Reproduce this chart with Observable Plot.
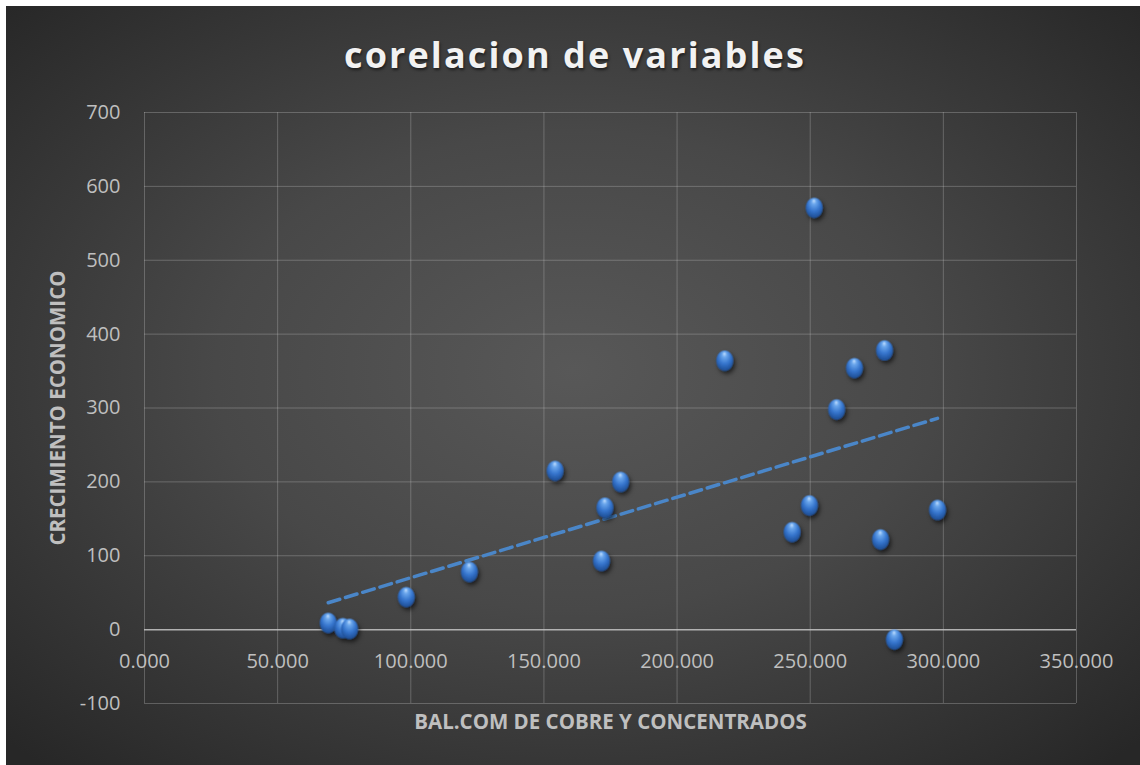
<!DOCTYPE html>
<html>
<head>
<meta charset="utf-8">
<script src="https://cdn.jsdelivr.net/npm/d3@7"></script>
<script src="https://cdn.jsdelivr.net/npm/@observablehq/plot@0.6"></script>
<style>
  html, body { margin: 0; padding: 0; background: #ffffff; }
  #chart {
    position: absolute; left: 6px; top: 6px; width: 1134px; height: 759px;
    background: radial-gradient(ellipse 70% 70% at 50% 48%, #585858 0%, #484848 45%, #333333 80%, #272727 100%);
    font-family: "Open Sans", sans-serif;
    overflow: hidden;
  }
  #title {
    height: 90px; line-height: 98px; text-align: center;
    font-family: "Open Sans", sans-serif; font-weight: bold; font-size: 36px;
    letter-spacing: 2.1px; color: #f2f2f2;
    text-shadow: 1px 2px 3px rgba(0,0,0,0.55);
    padding-left: 4px;
  }
  #chart svg { display: block; }
</style>
</head>
<body>
<div id="chart"><div id="title">corelacion de variables</div></div>
<script>
// Data
const balCobre = [69.0, 74.5, 77.0, 98.3, 122.0, 154.2, 178.8, 172.9, 171.6, 243.2, 249.7, 276.4, 297.8, 281.6, 251.5, 217.9, 277.9, 266.6, 259.9];
const crecimiento = [9, 2, 1, 44, 78, 215, 200, 165, 93, 132, 168, 122, 162, -13.5, 571, 364, 378, 354, 298];
const xTicks = [0, 50, 100, 150, 200, 250, 300, 350];
const xTickLabels = ["0.000", "50.000", "100.000", "150.000", "200.000", "250.000", "300.000", "350.000"];
const yTicks = [-100, 0, 100, 200, 300, 400, 500, 600, 700];
const yTickLabels = ["-100", "0", "100", "200", "300", "400", "500", "600", "700"];
const xTitle = "BAL.COM DE COBRE Y CONCENTRADOS";
const yTitle = "CRECIMIENTO ECONOMICO";

const data = balCobre.map((x, i) => ({x, y: crecimiento[i]}));
const xTickData = xTicks.map((v, i) => ({v, label: xTickLabels[i]}));

const ellipseSymbol = {
  draw(context, size) {
    const r = Math.sqrt(size / Math.PI);
    const rx = r * 0.9, ry = r * 1.08, k = 0.5523;
    context.moveTo(rx, 0);
    context.bezierCurveTo(rx, k * ry, k * rx, ry, 0, ry);
    context.bezierCurveTo(-k * rx, ry, -rx, k * ry, -rx, 0);
    context.bezierCurveTo(-rx, -k * ry, -k * rx, -ry, 0, -ry);
    context.bezierCurveTo(k * rx, -ry, rx, -k * ry, rx, 0);
    context.closePath();
  }
};

const gridStroke = "#d9d9d9";
const plot = Plot.plot({
  width: 1134,
  height: 669,
  marginTop: 16,
  marginBottom: 62,
  marginLeft: 138,
  marginRight: 64,
  style: { background: "transparent", color: "#bfbfbf", fontFamily: "Open Sans, sans-serif", fontSize: "20px" },
  x: { domain: [0, 350], axis: null },
  y: { domain: [-100, 700], axis: null },
  marks: [
    Plot.gridX(xTicks, { stroke: gridStroke, strokeOpacity: 0.28, strokeWidth: 1 }),
    Plot.gridY(yTicks, { stroke: gridStroke, strokeOpacity: 0.28, strokeWidth: 1 }),
    Plot.ruleY([0], { stroke: "#bfbfbf", strokeWidth: 1.5, strokeOpacity: 0.85 }),
    Plot.axisY(yTicks, { tickSize: 0, tickPadding: 24, fontSize: 20, fill: "#bfbfbf",
      tickFormat: (d) => yTickLabels[yTicks.indexOf(d)], label: null }),
    Plot.text([yTitle], { frameAnchor: "left", dx: -86, rotate: -90, textAnchor: "middle", lineAnchor: "middle",
      fill: "#bfbfbf", fontSize: 20.5, fontWeight: "bold" }),
    Plot.text(xTickData, { x: "v", y: () => 0, text: "label", dy: 32, fill: "#bfbfbf", fontSize: 20 }),
    Plot.text([xTitle], { frameAnchor: "bottom", lineAnchor: "middle", dy: 19, fill: "#bfbfbf", fontSize: 20.5, fontWeight: "bold" }),
    Plot.linearRegressionY(data, { x: "x", y: "y", ci: 0, stroke: "#4a86c8", strokeWidth: 3.5, strokeDasharray: "12,6" }),
    Plot.dot(data, { x: "x", y: "y", r: 9.4, symbol: ellipseSymbol, fill: "url(#sphereGrad)", stroke: "none" })
  ]
});

// gradient + shadow defs
const ns = "http://www.w3.org/2000/svg";
const defs = document.createElementNS(ns, "defs");
defs.innerHTML = `
  <radialGradient id="sphereGrad" cx="50%" cy="40%" r="62%" fx="48%" fy="14%">
    <stop offset="0%" stop-color="#c4e0ff"/>
    <stop offset="22%" stop-color="#6aa6ec"/>
    <stop offset="60%" stop-color="#3574cc"/>
    <stop offset="100%" stop-color="#1c4a8f"/>
  </radialGradient>
  <filter id="dotShadow" x="-50%" y="-50%" width="200%" height="200%">
    <feDropShadow dx="2" dy="3" stdDeviation="2" flood-color="#000" flood-opacity="0.6"/>
  </filter>`;
plot.insertBefore(defs, plot.firstChild);
const dotG = plot.querySelector('[aria-label="dot"]');
if (dotG) dotG.setAttribute("filter", "url(#dotShadow)");

document.getElementById("chart").appendChild(plot);
</script>
</body>
</html>
